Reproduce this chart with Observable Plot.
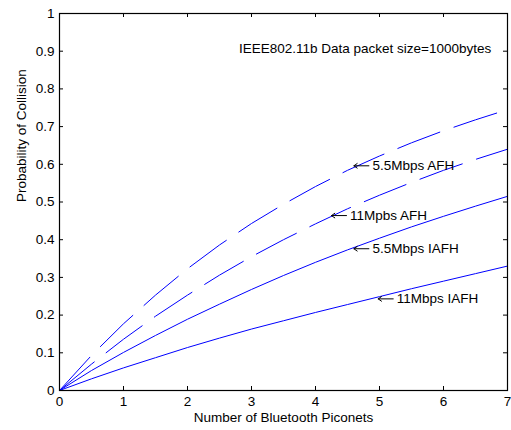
<!DOCTYPE html>
<html>
<head>
<meta charset="utf-8">
<script src="https://cdn.jsdelivr.net/npm/d3@7"></script>
<script src="https://cdn.jsdelivr.net/npm/@observablehq/plot@0.6"></script>
<style>
  html, body { margin: 0; padding: 0; background: #fff; }
</style>
</head>
<body>
<div id="chart"></div>
<script>
// ---- data ----
const piconets = [0, 0.5, 1, 1.5, 2, 2.5, 3, 3.5, 4, 4.5, 5, 5.5, 6, 6.5, 7];
const afh55  = [0, 0.093, 0.177, 0.253, 0.323, 0.386, 0.443, 0.494, 0.541, 0.584, 0.622, 0.657, 0.689, 0.718, 0.745];
const afh11  = [0, 0.070, 0.136, 0.197, 0.253, 0.306, 0.355, 0.400, 0.442, 0.482, 0.518, 0.552, 0.584, 0.613, 0.640];
const iafh55 = [0, 0.053, 0.101, 0.146, 0.189, 0.229, 0.268, 0.305, 0.340, 0.373, 0.404, 0.434, 0.462, 0.489, 0.515];
const iafh11 = [0, 0.031, 0.060, 0.087, 0.114, 0.139, 0.163, 0.185, 0.207, 0.228, 0.249, 0.270, 0.290, 0.310, 0.330];
const seriesNames = ["5.5Mbps AFH", "11Mpbs AFH", "5.5Mbps IAFH", "11Mbps IAFH"];
const seriesDashed = [true, true, false, false];

const xTicks = [0, 1, 2, 3, 4, 5, 6, 7];
const xTickLabels = ["0", "1", "2", "3", "4", "5", "6", "7"];
const yTicks = [0, 0.1, 0.2, 0.3, 0.4, 0.5, 0.6, 0.7, 0.8, 0.9, 1];
const yTickLabels = ["0", "0.1", "0.2", "0.3", "0.4", "0.5", "0.6", "0.7", "0.8", "0.9", "1"];

const xLabel = "Number of Bluetooth Piconets";
const yLabel = "Probability of Collision";
const headerText = "IEEE802.11b Data packet size=1000bytes";

// annotation anchors (arrow tips, in data units)
const labelX = [4.60, 4.25, 4.60, 4.98];
const labelY = [0.596, 0.464, 0.376, 0.243];

// ---- build table ----
const allSeries = [afh55, afh11, iafh55, iafh11];
const rows = [];
allSeries.forEach((vals, s) => {
  vals.forEach((v, i) => rows.push({series: seriesNames[s], dashed: seriesDashed[s], n: piconets[i], p: v}));
});
const labels = seriesNames.map((name, i) => ({name, x: labelX[i], y: labelY[i]}));

const W = 511, H = 430;
const mL = 59, mR = 4, mT = 13, mB = 40;
const fw = W - mL - mR, fh = H - mT - mB;
const tick = 4;
const arrowLen = 15 / (fw / 7); // 15 px expressed in x units

const chart = Plot.plot({
  width: W,
  height: H,
  marginLeft: mL,
  marginRight: mR,
  marginTop: mT,
  marginBottom: mB,
  style: {fontFamily: "'Liberation Sans', Arial, Helvetica, sans-serif", fontSize: "13.5px", color: "black", background: "white"},
  x: {domain: [0, 7], ticks: xTicks, tickSize: 0, tickPadding: 6, tickFormat: d => xTickLabels[Math.round(d)], label: null},
  y: {domain: [0, 1], ticks: yTicks, tickSize: 0, tickPadding: 5, tickFormat: d => yTickLabels[Math.round(d * 10)], label: null},
  marks: [
    // inward ticks on all four sides
    Plot.tickX(xTicks, {x: d => d, insetTop: fh - tick, stroke: "black"}),
    Plot.tickX(xTicks, {x: d => d, insetBottom: fh - tick, stroke: "black"}),
    Plot.tickY(yTicks, {y: d => d, insetRight: fw - tick, stroke: "black"}),
    Plot.tickY(yTicks, {y: d => d, insetLeft: fw - tick, stroke: "black"}),
    // curves
    Plot.line(rows.filter(d => d.dashed), {x: "n", y: "p", z: "series", stroke: "#0000ff", strokeWidth: 1, strokeDasharray: "45,15", curve: "linear"}),
    Plot.line(rows.filter(d => !d.dashed), {x: "n", y: "p", z: "series", stroke: "#0000ff", strokeWidth: 1, curve: "linear"}),
    // frame
    Plot.frame({stroke: "black", strokeWidth: 1.2}),
    // annotations: thin arrows + labels
    Plot.arrow(labels, {x1: d => d.x + arrowLen, x2: "x", y1: "y", y2: "y", stroke: "black", strokeWidth: 1, headLength: 6, headAngle: 70}),
    Plot.text(labels, {x: "x", y: "y", text: "name", textAnchor: "start", dx: 18.5, fill: "black", fontSize: 13.5}),
    Plot.text([headerText], {x: 6.745, y: 0.908, text: d => d, textAnchor: "end", fill: "black", fontSize: 13.5}),
    // axis titles
    Plot.text([xLabel], {frameAnchor: "bottom", text: d => d, dy: 31, fill: "black", fontSize: 13.5}),
    Plot.text([yLabel], {frameAnchor: "left", text: d => d, rotate: -90, dx: -38, fill: "black", fontSize: 13.5})
  ]
});
document.getElementById("chart").appendChild(chart);
</script>
</body>
</html>
